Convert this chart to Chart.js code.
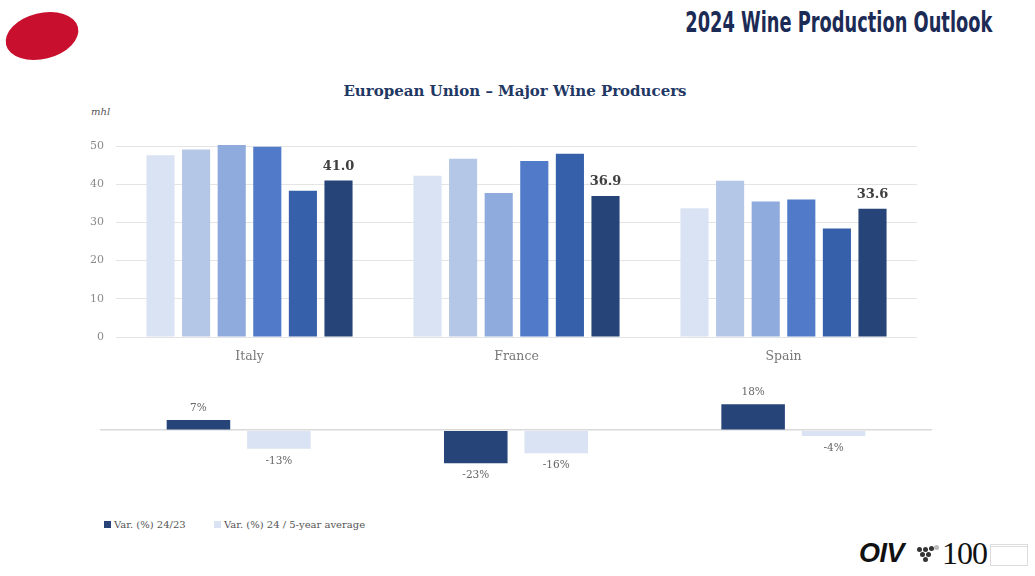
<!DOCTYPE html>
<html>
<head>
<meta charset="utf-8">
<script src="https://cdn.jsdelivr.net/npm/chart.js@4.4.1/dist/chart.umd.min.js"></script>
<style>
  html, body { margin:0; padding:0; background:#ffffff; }
  body { width:1035px; height:576px; position:relative; overflow:hidden; font-family:"DejaVu Serif", serif; }
  .abs { position:absolute; }
  #logoRed { left:5px; top:13px; width:74px; height:46px; border-radius:50%; background:#c8102e; transform:rotate(-14deg); }
  #header { right:43px; top:6px; font-family:"DejaVu Sans",sans-serif; font-weight:bold; font-size:28.5px; color:#1c2b55; white-space:nowrap; transform:scaleX(0.625); transform-origin:right center; }
  #title { left:0; width:1030px; top:82px; text-align:center; font-family:"DejaVu Serif",serif; font-weight:bold; font-size:15px; color:#1f3864; }
  #unit { left:91px; top:106px; font-style:italic; font-size:10px; color:#555; font-family:"DejaVu Serif",serif; }
  #c1 { left:0; top:100px; }
  #c2 { left:0; top:387px; }
  .leg { top:519px; font-size:10px; color:#555; font-family:"DejaVu Serif",serif; white-space:nowrap; }
  .leg span.sq { display:inline-block; width:7px; height:7px; margin-right:3px; vertical-align:0px; }
  #oiv { left:859px; top:538px; font-family:"Liberation Sans","DejaVu Sans",sans-serif; font-weight:bold; font-style:italic; font-size:27px; color:#111; letter-spacing:-0.5px; }
  #hundred { left:942px; top:535px; font-family:"Liberation Serif",serif; font-size:32px; color:#111; letter-spacing:-1px; }
  .grape { width:5px; height:5px; border-radius:50%; background:#333; }
  #bldg { left:990px; top:544px; width:38px; height:22px; border:1px solid #dcdcdc; border-top:3px double #dcdcdc; box-sizing:border-box; }
</style>
</head>
<body>
<div id="logoRed" class="abs"></div>
<div id="header" class="abs">2024 Wine Production Outlook</div>
<div id="title" class="abs">European Union – Major Wine Producers</div>
<div id="unit" class="abs">mhl</div>
<canvas id="c1" class="abs" width="1035" height="280" style="width:1035px;height:280px"></canvas>
<canvas id="c2" class="abs" width="1035" height="115" style="width:1035px;height:115px"></canvas>
<div class="abs leg" style="left:104px;"><span class="sq" style="background:#264478"></span>Var. (%) 24/23</div>
<div class="abs leg" style="left:214px;"><span class="sq" style="background:#dae3f3"></span>Var. (%) 24 / 5-year average</div>
<div id="oiv" class="abs">OIV</div>
<div class="abs grape" style="left:917px;top:547px"></div>
<div class="abs grape" style="left:923px;top:547px"></div>
<div class="abs grape" style="left:929px;top:546px"></div>
<div class="abs grape" style="left:920px;top:552px"></div>
<div class="abs grape" style="left:926px;top:552px"></div>
<div class="abs grape" style="left:923px;top:557px"></div>
<div class="abs grape" style="left:934px;top:545px;background:#bbb"></div>
<div id="hundred" class="abs">100</div>
<div id="bldg" class="abs"></div>
<script>
const categories = ['Italy', 'France', 'Spain'];
const years = ['2019', '2020', '2021', '2022', '2023', '2024'];
const prod2019 = [47.6, 42.2, 33.7];
const prod2020 = [49.1, 46.7, 40.9];
const prod2021 = [50.3, 37.7, 35.5];
const prod2022 = [49.8, 46.1, 36.0];
const prod2023 = [38.3, 48.0, 28.4];
const prod2024 = [41.0, 36.9, 33.6];
const yTicks = [0, 10, 20, 30, 40, 50];
const var2423 = [7, -23, 18];
const var24avg = [-13, -16, -4];
const varLabels = ['Var. (%) 24/23', 'Var. (%) 24 / 5-year average'];

const yearColors = ['#dae3f3', '#b4c7e7', '#8faadc', '#517bc9', '#3660a9', '#264478'];
const serif = '"DejaVu Serif", serif';

const labelPlugin = {
  id: 'valueLabels',
  afterDatasetsDraw(chart, args, opts) {
    const ctx = chart.ctx;
    ctx.save();
    chart.data.datasets.forEach((ds, di) => {
      if (!opts.datasets.includes(di)) return;
      const meta = chart.getDatasetMeta(di);
      meta.data.forEach((el, i) => {
        const v = ds.data[i];
        ctx.font = opts.font;
        ctx.fillStyle = opts.color;
        ctx.textAlign = 'center';
        ctx.textBaseline = 'middle';
        const y = v >= 0 ? el.y - opts.offset : el.y + opts.offset;
        ctx.fillText(opts.format(v), el.x, y);
      });
    });
    ctx.restore();
  }
};

const sets = [prod2019, prod2020, prod2021, prod2022, prod2023, prod2024];

new Chart(document.getElementById('c1'), {
  type: 'bar',
  data: {
    labels: categories,
    datasets: sets.map((d, i) => ({
      label: years[i], data: d, backgroundColor: yearColors[i],
      categoryPercentage: 0.8, barPercentage: 0.79
    }))
  },
  plugins: [labelPlugin],
  options: {
    responsive: false, animation: false, devicePixelRatio: 1,
    layout: { padding: { left: 0, right: 118, top: 27, bottom: 13 } },
    plugins: {
      legend: { display: false }, tooltip: { enabled: false },
      valueLabels: { datasets: [5], font: 'bold 13px ' + serif, color: '#404040', offset: 14, format: v => v.toFixed(1) }
    },
    scales: {
      x: {
        grid: { display: false }, border: { display: false },
        ticks: { color: '#777', font: { family: serif, size: 12.5 }, padding: 4 },
        afterFit(s) { s.height = 30; }
      },
      y: {
        min: 0, max: 55,
        afterBuildTicks(s) { s.ticks = yTicks.map(v => ({ value: v })); },
        grid: { color: '#e4e4e4', drawTicks: false },
        border: { display: false },
        ticks: { color: '#8a8a8a', font: { family: serif, size: 11 }, padding: 12 },
        afterFit(s) { s.width = 116; }
      }
    }
  }
});

new Chart(document.getElementById('c2'), {
  type: 'bar',
  data: {
    labels: categories,
    datasets: [
      { label: varLabels[0], data: var2423, backgroundColor: '#264478', categoryPercentage: 0.58, barPercentage: 0.79 },
      { label: varLabels[1], data: var24avg, backgroundColor: '#dae3f3', categoryPercentage: 0.58, barPercentage: 0.79 }
    ]
  },
  plugins: [labelPlugin],
  options: {
    responsive: false, animation: false, devicePixelRatio: 1,
    layout: { padding: { left: 100, right: 103, top: 0, bottom: 0 } },
    plugins: {
      legend: { display: false }, tooltip: { enabled: false },
      valueLabels: { datasets: [0, 1], font: '10.5px ' + serif, color: '#666', offset: 12, format: v => v + '%' }
    },
    scales: {
      x: { display: false },
      y: {
        min: -50, max: 30,
        afterBuildTicks(s) { s.ticks = [{ value: 0 }]; },
        grid: { color: '#d9d9d9', drawTicks: false, lineWidth: 1.5 },
        border: { display: false },
        ticks: { display: false },
        afterFit(s) { s.width = 0; }
      }
    }
  }
});
</script>
</body>
</html>
